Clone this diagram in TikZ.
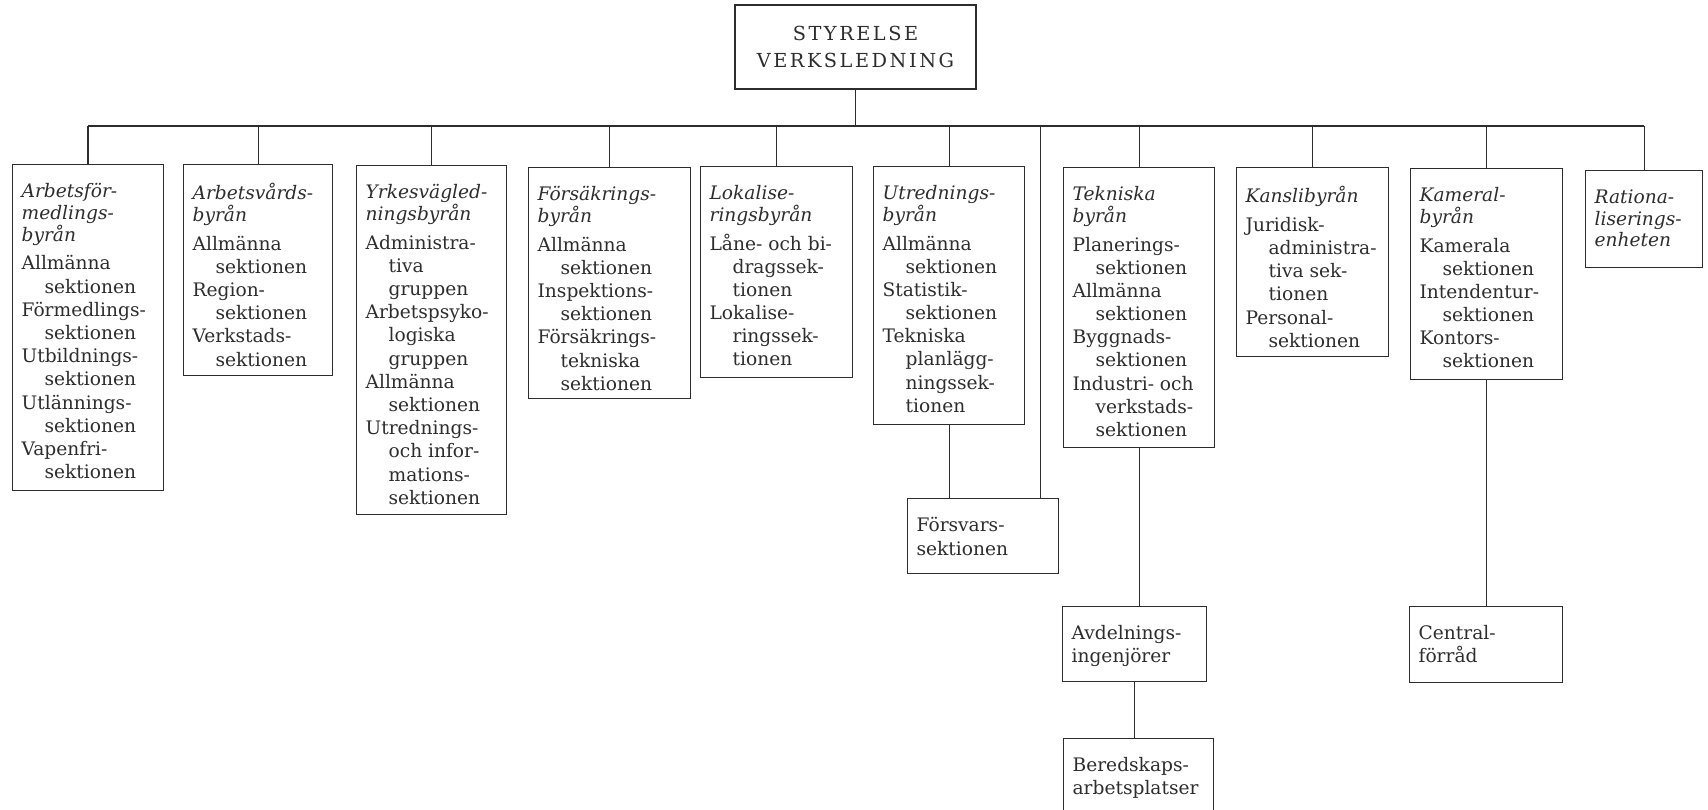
\documentclass[tikz,border=0pt]{standalone}
\usepackage{fontspec}
\setmainfont{DejaVu Serif}
\usetikzlibrary{positioning,calc}
\definecolor{inkGray}{RGB}{45,45,45}
\newlength{\pxu}\setlength{\pxu}{0.02cm}
\newcommand{\rubrik}[1]{{\itshape\fontsize{10.6}{12.4}\selectfont #1\par}\vspace{3pt}}
\newcommand{\sek}[1]{\par\hangindent=23\pxu\hangafter=1\relax #1\par}
\newcommand{\orgtext}[3]{\parbox[c][\dimexpr#2\pxu\relax][t]{\dimexpr#1\pxu-18\pxu\relax}{%
  \rightskip=0pt plus 1fil\fontsize{10.6}{13.2}\selectfont\vspace*{19\pxu}#3}}

\begin{document}
\begin{tikzpicture}[
  x=0.02cm, y=-0.02cm,
  enhet/.style={draw=inkGray, line width=0.7pt, inner xsep=0.18cm,
                inner ysep=0pt, anchor=north west, text=inkGray},
  ledning/.style={draw=inkGray, line width=0.7pt, align=center,
                  minimum width=241*0.02cm, minimum height=84*0.02cm,
                  text=inkGray, font=\fontsize{11}{15.3}\selectfont\addfontfeature{LetterSpace=13}},
  conn/.style={draw=inkGray, line width=0.7pt}
]
  \useasboundingbox (0,0) rectangle (1708,810);
  \clip (0,0) rectangle (1708,810);

  \node[ledning] (styr) at (855.5,47) {STYRELSE\\VERKSLEDNING};

  \node[enhet] (arbf) at (12,164) {\orgtext{151}{326}{%
    \rubrik{Arbetsför-\\medlings-\\byrån}
    \sek{Allmänna\\sektionen}\sek{Förmedlings-\\sektionen}
    \sek{Utbildnings-\\sektionen}\sek{Utlännings-\\sektionen}
    \sek{Vapenfri-\\sektionen}}};
  \node[enhet] (arbv) at (183,164) {\orgtext{149}{211}{%
    \rubrik{Arbetsvårds-\\byrån}
    \sek{Allmänna\\sektionen}\sek{Region-\\sektionen}
    \sek{Verkstads-\\sektionen}}};
  \node[enhet] (yrke) at (356,165) {\orgtext{150}{349}{%
    \rubrik{Yrkesvägled-\\ningsbyrån}
    \sek{Administra-\\tiva\\gruppen}\sek{Arbetspsyko-\\logiska\\gruppen}
    \sek{Allmänna\\sektionen}\sek{Utrednings-\\och infor-\\mations-\\sektionen}}};
  \node[enhet] (fors) at (528,167) {\orgtext{162}{231}{%
    \rubrik{Försäkrings-\\byrån}
    \sek{Allmänna\\sektionen}\sek{Inspektions-\\sektionen}
    \sek{Försäkrings-\\tekniska\\sektionen}}};
  \node[enhet] (loka) at (700,166) {\orgtext{152}{211}{%
    \rubrik{Lokalise-\\ringsbyrån}
    \sek{Låne- och bi-\\dragssek-\\tionen}\sek{Lokalise-\\ringssek-\\tionen}}};
  \node[enhet] (utre) at (873,166) {\orgtext{151}{258}{%
    \rubrik{Utrednings-\\byrån}
    \sek{Allmänna\\sektionen}\sek{Statistik-\\sektionen}
    \sek{Tekniska\\planlägg-\\ningssek-\\tionen}}};
  \node[enhet] (tekn) at (1063,167) {\orgtext{151}{280}{%
    \rubrik{Tekniska\\byrån}
    \sek{Planerings-\\sektionen}\sek{Allmänna\\sektionen}
    \sek{Byggnads-\\sektionen}\sek{Industri- och\\verkstads-\\sektionen}}};
  \node[enhet] (kans) at (1236,167) {\orgtext{152}{189}{%
    \rubrik{Kanslibyrån}
    \sek{Juridisk-\\administra-\\tiva sek-\\tionen}\sek{Personal-\\sektionen}}};
  \node[enhet] (kame) at (1410,168) {\orgtext{152}{211}{%
    \rubrik{Kameral-\\byrån}
    \sek{Kamerala\\sektionen}\sek{Intendentur-\\sektionen}
    \sek{Kontors-\\sektionen}}};
  \node[enhet] (rati) at (1585,170) {\orgtext{117}{97}{%
    \rubrik{Rationa-\\liserings-\\enheten}}};

  \node[enhet] (fsv) at (907,498) {\orgtext{151}{75}{Försvars-\\sektionen}};
  \node[enhet] (avd) at (1062,606) {\orgtext{144}{75}{Avdelnings-\\ingenjörer}};
  \node[enhet] (ber) at (1063,738) {\orgtext{150}{90}{Beredskaps-\\arbetsplatser}};
  \node[enhet] (cfr) at (1409,606) {\orgtext{153}{76}{Central-\\förråd}};

  \coordinate (bus) at (0,126);
  \coordinate (fsvin) at ([xshift=-19*0.02cm]fsv.north east);
  \draw[conn] (styr.south) -- (styr.south |- bus);
  \draw[conn] (arbf.north |- bus) -- (rati.north |- bus);
  \foreach \b in {arbf,arbv,yrke,fors,loka,utre,tekn,kans,kame,rati}
    \draw[conn] (\b.north) -- (\b.north |- bus);
  \draw[conn] (fsvin) -- (fsvin |- bus);
  \draw[conn] (utre.south) -- (utre.south |- fsv.north);
  \foreach \a/\b in {tekn/avd,avd/ber,kame/cfr}
    \draw[conn] (\a.south) -- (\a.south |- \b.north);
\end{tikzpicture}
\end{document}
